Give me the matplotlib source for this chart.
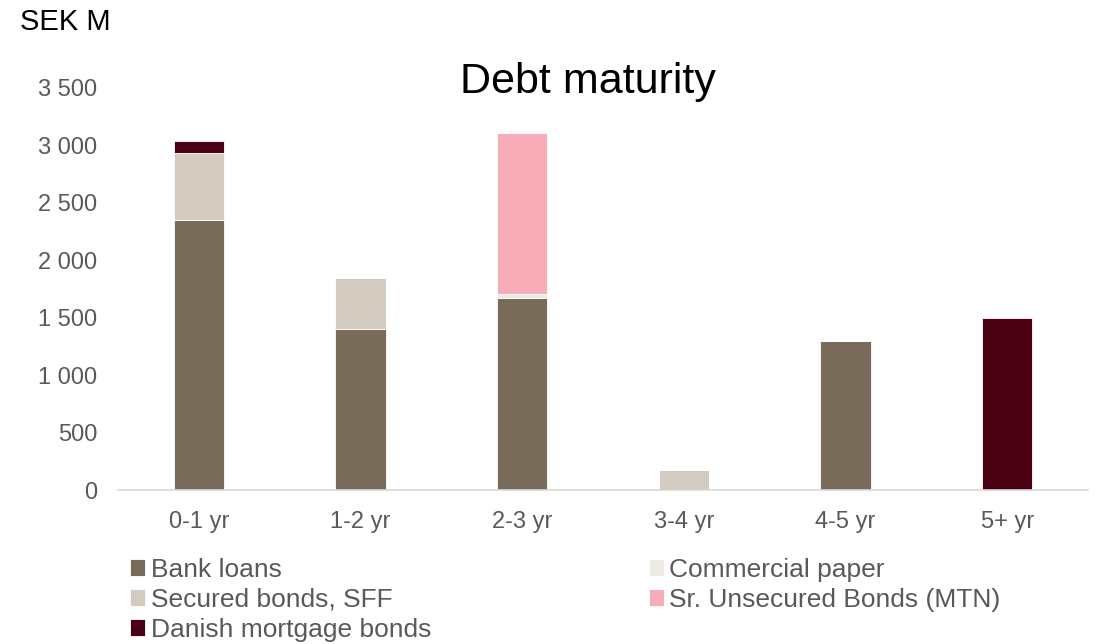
import numpy as np
import matplotlib as mpl
import matplotlib.pyplot as plt

mpl.rcParams['font.family'] = ['Liberation Sans', 'DejaVu Sans']

# data (SEK M)
categories = ['0-1 yr', '1-2 yr', '2-3 yr', '3-4 yr', '4-5 yr', '5+ yr']
bank_loans = [2350, 1400, 1675, 0, 1300, 0]
commercial_paper = [0, 0, 35, 0, 0, 0]
secured_bonds = [585, 450, 0, 175, 0, 0]
mtn_bonds = [0, 0, 1400, 0, 0, 0]
danish_bonds = [105, 0, 0, 0, 0, 1495]

series = [
    ('Bank loans', bank_loans, '#786b5a'),
    ('Commercial paper', commercial_paper, '#ede9e3'),
    ('Secured bonds, SFF', secured_bonds, '#d4cbc0'),
    ('Sr. Unsecured Bonds (MTN)', mtn_bonds, '#f7acb7'),
    ('Danish mortgage bonds', danish_bonds, '#4a0012'),
]

fig = plt.figure(figsize=(11.04, 6.44), dpi=100)
ax = fig.add_axes([0.1069, 0.2391, 0.8786, 0.6243])

x = np.arange(len(categories))
bottom = np.zeros(len(categories))
handles = {}
for name, vals, col in series:
    vals = np.array(vals, dtype=float)
    b = ax.bar(x, vals, width=0.31, bottom=bottom, color=col, label=name,
               edgecolor='white', linewidth=0.6)
    handles[name] = b
    bottom += vals

ax.set_xlim(-0.5, len(categories) - 0.5)
ax.set_ylim(0, 3500)
ax.set_yticks(np.arange(0, 3501, 500))
ax.set_yticklabels([f'{v:,}'.replace(',', ' ') for v in range(0, 3501, 500)])
ax.set_xticks(x)
ax.set_xticklabels(categories)
ax.tick_params(axis='both', length=0, labelsize=17, colors='#595959')
ax.tick_params(axis='x', pad=15)
ax.tick_params(axis='y', pad=15)
for s in ['top', 'right', 'left']:
    ax.spines[s].set_visible(False)
ax.spines['bottom'].set_color('#d9d9d9')
ax.spines['bottom'].set_linewidth(1.2)

fig.text(0.533, 0.872, 'Debt maturity', ha='center', va='center', fontsize=31, color='black')
fig.text(0.018, 0.966, 'SEK M', ha='left', va='center', fontsize=21, color='black')

order = ['Bank loans', 'Secured bonds, SFF', 'Danish mortgage bonds',
         'Commercial paper', 'Sr. Unsecured Bonds (MTN)']
leg = fig.legend([handles[n] for n in order], order, ncol=2, loc='upper left',
                 bbox_to_anchor=(0.118, 0.134), frameon=False, fontsize=19,
                 handlelength=0.57, handleheight=0.57, handletextpad=0.2,
                 labelspacing=0.23, columnspacing=8.25, borderaxespad=0, borderpad=0)
for t in leg.get_texts():
    t.set_color('#595959')

fig.savefig('out.png', dpi=100)
